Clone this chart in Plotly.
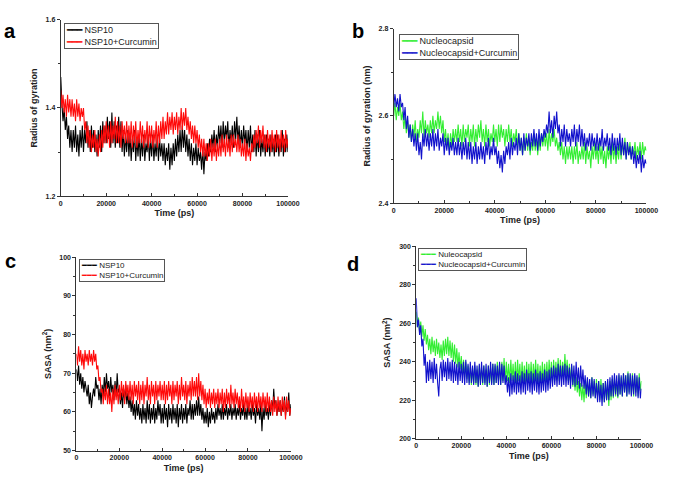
import plotly.graph_objects as go

STEP_PS = 500
# ---- Panel a: Radius of gyration, NSP10 ----
rg_nsp10 = [
 1.47, 1.41, 1.37, 1.40, 1.35, 1.38, 1.33, 1.36, 1.31, 1.35,
 1.30, 1.35, 1.31, 1.36, 1.30, 1.34, 1.29, 1.35, 1.31, 1.36,
 1.30, 1.35, 1.32, 1.37, 1.31, 1.35, 1.30, 1.36, 1.31, 1.35,
 1.30, 1.34, 1.29, 1.35, 1.31, 1.36, 1.30, 1.37, 1.32, 1.36,
 1.32, 1.38, 1.33, 1.37, 1.31, 1.39, 1.32, 1.37, 1.31, 1.36,
 1.32, 1.38, 1.31, 1.37, 1.30, 1.35, 1.29, 1.34, 1.30, 1.35,
 1.29, 1.34, 1.28, 1.33, 1.30, 1.35, 1.28, 1.33, 1.29, 1.34,
 1.28, 1.33, 1.29, 1.34, 1.28, 1.32, 1.30, 1.34, 1.28, 1.33,
 1.29, 1.34, 1.28, 1.32, 1.29, 1.34, 1.28, 1.33, 1.29, 1.32,
 1.28, 1.32, 1.27, 1.31, 1.28, 1.32, 1.26, 1.31, 1.27, 1.32,
 1.28, 1.33, 1.29, 1.34, 1.30, 1.35, 1.30, 1.36, 1.31, 1.35,
 1.30, 1.34, 1.29, 1.33, 1.28, 1.32, 1.27, 1.31, 1.28, 1.32,
 1.27, 1.31, 1.28, 1.30, 1.26, 1.31, 1.25, 1.30, 1.28, 1.32,
 1.29, 1.33, 1.30, 1.34, 1.31, 1.35, 1.30, 1.34, 1.31, 1.36,
 1.32, 1.36, 1.31, 1.37, 1.32, 1.36, 1.33, 1.37, 1.31, 1.35,
 1.32, 1.36, 1.31, 1.37, 1.33, 1.38, 1.32, 1.36, 1.31, 1.35,
 1.31, 1.36, 1.32, 1.35, 1.30, 1.35, 1.31, 1.36, 1.30, 1.34,
 1.30, 1.35, 1.29, 1.34, 1.30, 1.35, 1.29, 1.33, 1.30, 1.34,
 1.29, 1.34, 1.30, 1.33, 1.29, 1.34, 1.30, 1.33, 1.29, 1.34,
 1.30, 1.34, 1.29, 1.33, 1.30, 1.35, 1.29, 1.33, 1.30, 1.34,
 1.30]
rg_nsp10_cur = [
 1.44, 1.40, 1.43, 1.39, 1.42, 1.38, 1.43, 1.39, 1.42, 1.38,
 1.42, 1.38, 1.41, 1.37, 1.42, 1.38, 1.41, 1.37, 1.40, 1.38,
 1.40, 1.35, 1.37, 1.32, 1.36, 1.31, 1.35, 1.30, 1.34, 1.31,
 1.35, 1.30, 1.33, 1.29, 1.34, 1.30, 1.35, 1.31, 1.36, 1.32,
 1.37, 1.32, 1.36, 1.31, 1.37, 1.32, 1.36, 1.33, 1.38, 1.32,
 1.37, 1.32, 1.36, 1.31, 1.37, 1.33, 1.36, 1.32, 1.37, 1.32,
 1.36, 1.32, 1.37, 1.31, 1.36, 1.32, 1.37, 1.31, 1.35, 1.32,
 1.37, 1.32, 1.36, 1.31, 1.35, 1.32, 1.37, 1.31, 1.36, 1.32,
 1.36, 1.31, 1.35, 1.32, 1.37, 1.31, 1.36, 1.32, 1.37, 1.33,
 1.38, 1.33, 1.37, 1.34, 1.39, 1.34, 1.38, 1.35, 1.39, 1.34,
 1.38, 1.35, 1.39, 1.34, 1.38, 1.35, 1.40, 1.35, 1.39, 1.36,
 1.40, 1.35, 1.38, 1.34, 1.37, 1.33, 1.36, 1.32, 1.36, 1.32,
 1.35, 1.31, 1.34, 1.30, 1.33, 1.29, 1.33, 1.29, 1.32, 1.28,
 1.32, 1.29, 1.33, 1.28, 1.32, 1.29, 1.33, 1.28, 1.32, 1.29,
 1.33, 1.29, 1.34, 1.30, 1.33, 1.29, 1.34, 1.30, 1.33, 1.29,
 1.34, 1.30, 1.34, 1.31, 1.33, 1.30, 1.34, 1.30, 1.33, 1.29,
 1.32, 1.29, 1.33, 1.28, 1.32, 1.29, 1.31, 1.28, 1.32, 1.30,
 1.34, 1.31, 1.35, 1.32, 1.36, 1.31, 1.35, 1.32, 1.36, 1.31,
 1.34, 1.30, 1.35, 1.31, 1.34, 1.30, 1.35, 1.31, 1.34, 1.30,
 1.35, 1.31, 1.34, 1.30, 1.35, 1.31, 1.34, 1.30, 1.35, 1.31,
 1.33]

# ---- Panel b: Radius of gyration (nm), Nucleocapsid ----
rg_ncap = [
 2.60, 2.63, 2.59, 2.62, 2.60, 2.63, 2.59, 2.61, 2.57, 2.60,
 2.56, 2.59, 2.55, 2.58, 2.54, 2.58, 2.55, 2.59, 2.54, 2.57,
 2.55, 2.59, 2.56, 2.61, 2.55, 2.59, 2.56, 2.58, 2.55, 2.59,
 2.56, 2.60, 2.56, 2.59, 2.57, 2.61, 2.57, 2.60, 2.56, 2.59,
 2.54, 2.57, 2.53, 2.56, 2.52, 2.56, 2.53, 2.57, 2.54, 2.57,
 2.54, 2.58, 2.54, 2.57, 2.53, 2.58, 2.54, 2.57, 2.55, 2.58,
 2.53, 2.57, 2.54, 2.58, 2.53, 2.57, 2.54, 2.58, 2.55, 2.59,
 2.54, 2.57, 2.53, 2.58, 2.54, 2.57, 2.53, 2.56, 2.54, 2.58,
 2.54, 2.57, 2.53, 2.58, 2.54, 2.58, 2.55, 2.57, 2.53, 2.57,
 2.54, 2.58, 2.54, 2.57, 2.53, 2.56, 2.54, 2.57, 2.53, 2.56,
 2.52, 2.55, 2.51, 2.55, 2.52, 2.56, 2.52, 2.55, 2.51, 2.54,
 2.52, 2.56, 2.52, 2.55, 2.51, 2.55, 2.52, 2.56, 2.53, 2.56,
 2.53, 2.56, 2.52, 2.57, 2.53, 2.56, 2.54, 2.57, 2.53, 2.55,
 2.52, 2.54, 2.51, 2.54, 2.50, 2.53, 2.49, 2.53, 2.50, 2.53,
 2.50, 2.53, 2.49, 2.53, 2.50, 2.54, 2.49, 2.52, 2.50, 2.53,
 2.50, 2.54, 2.49, 2.53, 2.50, 2.52, 2.48, 2.53, 2.50, 2.54,
 2.50, 2.53, 2.49, 2.54, 2.50, 2.53, 2.49, 2.52, 2.48, 2.53,
 2.50, 2.53, 2.49, 2.54, 2.50, 2.53, 2.49, 2.53, 2.50, 2.54,
 2.50, 2.54, 2.51, 2.55, 2.50, 2.54, 2.51, 2.54, 2.50, 2.53,
 2.51, 2.54, 2.50, 2.53, 2.51, 2.54, 2.50, 2.54, 2.51, 2.53,
 2.52]
rg_ncap_cur = [
 2.62, 2.65, 2.62, 2.64, 2.61, 2.65, 2.62, 2.63, 2.59, 2.62,
 2.57, 2.60, 2.55, 2.58, 2.54, 2.57, 2.53, 2.56, 2.52, 2.56,
 2.51, 2.54, 2.50, 2.56, 2.53, 2.57, 2.53, 2.56, 2.52, 2.56,
 2.53, 2.57, 2.52, 2.56, 2.53, 2.57, 2.52, 2.55, 2.53, 2.56,
 2.51, 2.55, 2.52, 2.55, 2.51, 2.54, 2.52, 2.55, 2.51, 2.54,
 2.51, 2.55, 2.51, 2.54, 2.50, 2.54, 2.51, 2.55, 2.50, 2.54,
 2.50, 2.54, 2.49, 2.53, 2.50, 2.54, 2.49, 2.53, 2.50, 2.54,
 2.50, 2.53, 2.49, 2.54, 2.51, 2.55, 2.50, 2.53, 2.51, 2.55,
 2.51, 2.53, 2.49, 2.52, 2.48, 2.51, 2.47, 2.52, 2.49, 2.53,
 2.51, 2.54, 2.50, 2.55, 2.51, 2.54, 2.52, 2.55, 2.51, 2.56,
 2.52, 2.55, 2.51, 2.56, 2.52, 2.55, 2.53, 2.56, 2.52, 2.56,
 2.53, 2.57, 2.53, 2.56, 2.52, 2.57, 2.53, 2.56, 2.54, 2.57,
 2.55, 2.58, 2.56, 2.61, 2.56, 2.59, 2.55, 2.60, 2.57, 2.61,
 2.56, 2.58, 2.53, 2.57, 2.54, 2.58, 2.53, 2.57, 2.54, 2.56,
 2.53, 2.57, 2.54, 2.58, 2.53, 2.57, 2.54, 2.58, 2.53, 2.57,
 2.53, 2.56, 2.52, 2.55, 2.53, 2.56, 2.52, 2.56, 2.53, 2.55,
 2.52, 2.56, 2.52, 2.55, 2.53, 2.57, 2.52, 2.55, 2.53, 2.56,
 2.52, 2.55, 2.51, 2.56, 2.52, 2.55, 2.51, 2.55, 2.52, 2.56,
 2.51, 2.55, 2.51, 2.54, 2.50, 2.54, 2.51, 2.53, 2.50, 2.53,
 2.49, 2.52, 2.48, 2.51, 2.49, 2.52, 2.47, 2.51, 2.48, 2.50,
 2.49]

# ---- Panel c: SASA (nm^2), NSP10 ----
sasa_nsp10 = [
 71, 68, 72, 67, 70, 66, 69, 65, 68, 66,
 64, 67, 62, 65, 61, 64, 66, 64, 69, 66,
 67, 63, 66, 62, 67, 64, 69, 65, 70, 66,
 68, 64, 69, 65, 67, 63, 68, 64, 70, 65,
 66, 62, 65, 61, 66, 63, 67, 62, 65, 61,
 64, 60, 63, 59, 62, 58, 63, 59, 62, 58,
 61, 57, 62, 58, 61, 57, 63, 58, 62, 57,
 61, 58, 62, 57, 61, 58, 63, 59, 62, 57,
 61, 57, 62, 58, 61, 56, 62, 58, 61, 57,
 62, 58, 61, 57, 62, 56, 61, 58, 62, 57,
 61, 58, 62, 57, 61, 59, 63, 58, 62, 58,
 62, 59, 63, 59, 64, 59, 62, 58, 61, 57,
 60, 57, 61, 56, 60, 57, 61, 58, 60, 57,
 61, 58, 62, 59, 61, 58, 62, 58, 61, 59,
 62, 58, 61, 59, 62, 58, 61, 59, 62, 58,
 61, 59, 62, 58, 61, 59, 62, 58, 61, 58,
 62, 59, 61, 58, 62, 59, 61, 57, 62, 59,
 61, 58, 62, 55, 61, 58, 62, 59, 61, 58,
 62, 59, 63, 60, 66, 61, 63, 59, 62, 60,
 63, 59, 62, 60, 64, 59, 62, 60, 65, 59,
 62]
sasa_nsp10_cur = [
 75, 72, 77, 73, 76, 72, 75, 71, 76, 73,
 75, 72, 76, 73, 75, 72, 76, 73, 75, 71,
 72, 68, 69, 65, 66, 62, 66, 63, 67, 62,
 66, 62, 65, 60, 66, 62, 67, 63, 66, 62,
 67, 63, 68, 64, 67, 62, 68, 64, 67, 63,
 68, 63, 67, 62, 68, 64, 67, 63, 68, 62,
 67, 63, 68, 62, 67, 64, 69, 63, 67, 62,
 68, 64, 67, 62, 68, 63, 67, 64, 68, 63,
 67, 63, 68, 62, 67, 63, 68, 64, 67, 62,
 68, 63, 67, 64, 68, 62, 67, 63, 69, 64,
 67, 63, 68, 62, 67, 64, 68, 63, 69, 64,
 68, 64, 69, 63, 70, 64, 68, 63, 67, 62,
 66, 61, 65, 62, 66, 61, 65, 62, 66, 61,
 65, 62, 66, 61, 65, 62, 66, 60, 65, 61,
 66, 62, 65, 61, 67, 62, 65, 61, 66, 62,
 65, 61, 64, 60, 66, 61, 64, 60, 65, 61,
 64, 60, 65, 61, 64, 60, 65, 61, 64, 60,
 65, 61, 64, 60, 65, 61, 64, 60, 65, 60,
 64, 60, 63, 59, 64, 60, 63, 59, 64, 60,
 63, 59, 64, 60, 63, 58, 64, 60, 63, 59,
 61]

# ---- Panel d: SASA (nm^2), Nucleocapsid ----
sasa_ncap = [
 266, 258, 263, 255, 261, 253, 259, 251, 257, 249,
 254, 246, 252, 244, 253, 245, 251, 243, 252, 244,
 250, 242, 249, 241, 251, 243, 252, 244, 253, 243,
 251, 242, 250, 240, 249, 239, 247, 237, 245, 236,
 243, 234, 241, 232, 240, 231, 238, 229, 237, 228,
 237, 229, 238, 228, 236, 227, 238, 229, 237, 228,
 238, 229, 236, 227, 238, 228, 237, 229, 239, 228,
 238, 229, 240, 230, 239, 228, 240, 230, 242, 229,
 240, 230, 239, 229, 241, 230, 239, 228, 240, 229,
 241, 230, 239, 228, 240, 229, 238, 228, 240, 229,
 239, 229, 240, 228, 239, 230, 241, 229, 239, 228,
 238, 229, 240, 228, 239, 229, 240, 228, 241, 230,
 240, 229, 241, 230, 240, 231, 242, 230, 241, 231,
 240, 232, 244, 233, 241, 230, 239, 229, 238, 227,
 234, 225, 232, 224, 230, 222, 229, 220, 228, 219,
 230, 221, 231, 222, 229, 221, 232, 223, 230, 221,
 231, 222, 230, 220, 231, 221, 229, 219, 230, 220,
 228, 217, 230, 220, 231, 221, 232, 222, 230, 221,
 233, 223, 232, 222, 234, 224, 233, 222, 235, 224,
 233, 223, 234, 222, 233, 224, 232, 222, 234, 225,
 230]
sasa_ncap_cur = [
 273, 258, 262, 254, 259, 248, 252, 238, 244, 229,
 240, 230, 241, 231, 240, 229, 242, 231, 239, 229,
 222, 236, 240, 230, 241, 232, 240, 230, 242, 231,
 240, 230, 241, 229, 240, 230, 239, 228, 240, 230,
 239, 229, 240, 228, 241, 229, 239, 228, 240, 229,
 238, 228, 240, 229, 238, 227, 239, 228, 240, 229,
 238, 228, 239, 227, 238, 229, 240, 228, 239, 228,
 239, 229, 238, 228, 240, 228, 239, 229, 238, 228,
 233, 224, 232, 222, 234, 223, 233, 224, 235, 223,
 234, 224, 233, 223, 235, 224, 234, 223, 236, 225,
 234, 224, 235, 223, 234, 225, 236, 224, 234, 223,
 235, 224, 234, 225, 236, 224, 235, 225, 236, 226,
 237, 227, 238, 228, 237, 227, 239, 228, 238, 227,
 238, 228, 239, 227, 238, 228, 237, 226, 239, 228,
 238, 227, 240, 228, 237, 226, 238, 227, 236, 226,
 233, 223, 232, 222, 231, 221, 232, 222, 231, 221,
 229, 219, 230, 219, 228, 217, 229, 219, 230, 220,
 231, 220, 232, 222, 233, 222, 234, 223, 233, 222,
 234, 223, 233, 222, 234, 224, 233, 222, 234, 223,
 234, 222, 233, 223, 234, 222, 233, 221, 232, 221,
 226]

x_ticks = [0, 20000, 40000, 60000, 80000, 100000]

def times(series):
    return [i * STEP_PS for i in range(len(series))]

FONT = "Liberation Sans, Arial, sans-serif"
BLACK, RED, GREEN, BLUE = "#000000", "#ff0a0a", "#33ee33", "#1212cc"

fig = go.Figure()
traces = [
    (rg_nsp10, "NSP10", BLACK, "x", "y"),
    (rg_nsp10_cur, "NSP10+Curcumin", RED, "x", "y"),
    (rg_ncap, "Nucleocapsid", GREEN, "x2", "y2"),
    (rg_ncap_cur, "Nucleocapsid+Curcumin", BLUE, "x2", "y2"),
    (sasa_nsp10, "NSP10", BLACK, "x3", "y3"),
    (sasa_nsp10_cur, "NSP10+Curcumin", RED, "x3", "y3"),
    (sasa_ncap, "Nuleocapsid", GREEN, "x4", "y4"),
    (sasa_ncap_cur, "Nucleocapsid+Curcumin", BLUE, "x4", "y4"),
]
for vals, name, col, xa, ya in traces:
    fig.add_trace(go.Scatter(x=times(vals), y=vals, mode="lines", name=name,
                             line=dict(color=col, width=1.1, simplify=False),
                             xaxis=xa, yaxis=ya, showlegend=False))

W, H = 676, 488
def dom_x(a, b): return [a / W, b / W]
def dom_y(top, bot): return [1 - bot / H, 1 - top / H]

tickfont = dict(family=FONT, size=7, color="#222", weight="bold")
titlefont = dict(family=FONT, size=9, color="#222", weight="bold")

def xaxis(dom, anchor):
    return dict(domain=dom, anchor=anchor, range=[0, 100000], tickvals=x_ticks,
                tickformat="d",
                showline=True, linecolor="#333", linewidth=1, ticks="inside",
                ticklen=3, tickcolor="#333", showgrid=False, zeroline=False,
                tickfont=tickfont, title=dict(text="Time (ps)", font=titlefont, standoff=4),
                minor=dict(dtick=10000, ticks="inside", ticklen=2, tickcolor="#333"))

def yaxis(dom, anchor, rng, dtick, minor, title):
    return dict(domain=dom, anchor=anchor, range=rng, dtick=dtick, tick0=rng[0],
                showline=True, linecolor="#333", linewidth=1, ticks="outside",
                ticklen=3, tickcolor="#333", showgrid=False, zeroline=False,
                tickfont=tickfont, title=dict(text=title, font=titlefont, standoff=6),
                minor=dict(dtick=minor, tick0=rng[0], ticks="outside", ticklen=2, tickcolor="#333"))

fig.update_layout(
    width=W, height=H, margin=dict(l=0, r=0, t=0, b=0),
    paper_bgcolor="white", plot_bgcolor="white", showlegend=False,
    xaxis=xaxis(dom_x(60, 292), "y"),
    yaxis=yaxis(dom_y(16, 195), "x", [1.2, 1.6], 0.2, 0.1, "Radius of gyration"),
    xaxis2=xaxis(dom_x(400, 658), "y2"),
    yaxis2=yaxis(dom_y(25, 202), "x2", [2.4, 2.8], 0.2, 0.1, "Radius of gyration (nm)"),
    xaxis3=xaxis(dom_x(76, 295), "y3"),
    yaxis3=yaxis(dom_y(257, 453), "x3", [50, 100], 10, 5, "SASA (nm<sup>2</sup>)"),
    xaxis4=xaxis(dom_x(423, 653), "y4"),
    yaxis4=yaxis(dom_y(246, 441), "x4", [200, 300], 20, 10, "SASA (nm<sup>2</sup>)"),
)

# Legend boxes (key line + series name), built from the trace names/colours
def legend_box(i0, i1, px, py, size):
    rows = []
    for vals, name, col, xa, ya in (traces[i0], traces[i1]):
        rows.append(f"<span style='color:{col}'>━━━</span> {name}")
    fig.add_annotation(text="<br>".join(rows), x=px / W, y=1 - py / H,
                       xref="paper", yref="paper", xanchor="left", yanchor="top",
                       align="left", showarrow=False, bgcolor="white",
                       bordercolor="#555", borderwidth=1, borderpad=1,
                       font=dict(family=FONT, size=size, color="#222"))

legend_box(0, 1, 63, 19, 9)
legend_box(2, 3, 405, 30, 9)
legend_box(4, 5, 79, 259, 8)
legend_box(6, 7, 425, 248, 8)

for txt, px, py in [("a", 8, 27), ("b", 364, 27), ("c", 9, 261), ("d", 358, 264)]:
    fig.add_annotation(text=txt, x=px / W, y=1 - py / H, xref="paper", yref="paper",
                       showarrow=False, xanchor="center", yanchor="middle",
                       font=dict(family=FONT, size=20, color="black", weight="bold"))

fig.write_html("out.html", config={"displayModeBar": False},
               post_script="document.body.style.margin='0';")
